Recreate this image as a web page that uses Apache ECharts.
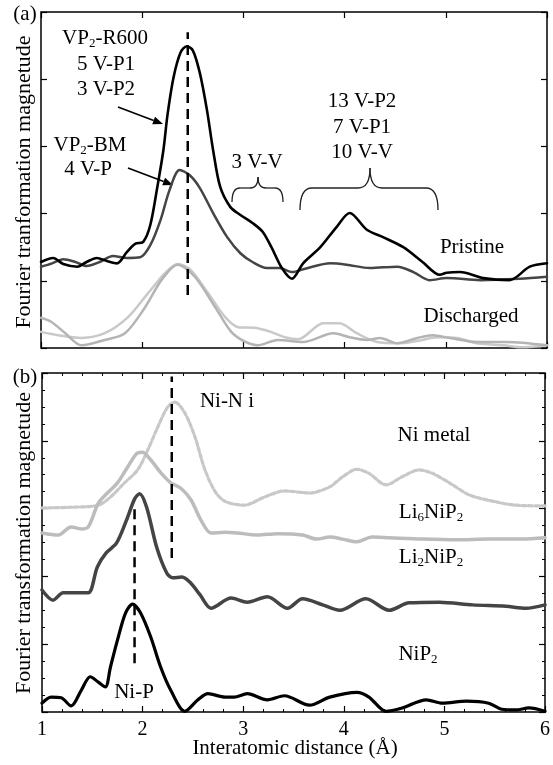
<!DOCTYPE html>
<html>
<head>
<meta charset="utf-8">
<script src="https://cdn.jsdelivr.net/npm/echarts@6/dist/echarts.min.js"></script>
<style>
html,body{margin:0;padding:0;background:#fff;}
#chart{width:553px;height:765px;}
</style>
</head>
<body>
<div id="chart"></div>
<script>
// ---------- DATA ----------
const xTickLabels = ['1', '2', '3', '4', '5', '6'];

// Panel (a): pristine VP2-R600 (black)
const pristineR600 = [
  [1.00,1.28],[1.12,1.34],[1.22,1.25],[1.36,1.21],[1.45,1.28],[1.55,1.34],[1.66,1.29],[1.75,1.26],
  [1.85,1.43],[1.93,1.55],[2.01,1.58],[2.08,1.83],[2.15,2.40],[2.21,2.95],[2.25,3.47],[2.31,4.03],
  [2.38,4.40],[2.44,4.49],[2.50,4.43],[2.57,4.09],[2.64,3.54],[2.70,2.95],[2.77,2.40],[2.87,2.10],
  [2.97,1.98],[3.09,1.86],[3.19,1.73],[3.28,1.49],[3.38,1.19],[3.48,1.03],[3.59,1.26],[3.76,1.50],
  [3.92,1.80],[4.05,2.01],[4.22,1.76],[4.38,1.65],[4.58,1.50],[4.77,1.28],[4.94,1.09],[5.01,1.12],
  [5.14,1.13],[5.37,1.04],[5.63,1.01],[5.83,1.21],[6.00,1.26]
];
// Panel (a): pristine VP2-BM (dark grey)
const pristineBM = [
  [1.00,1.21],[1.11,1.26],[1.22,1.32],[1.34,1.28],[1.45,1.22],[1.58,1.28],[1.71,1.37],[1.85,1.34],
  [1.98,1.35],[2.08,1.53],[2.18,1.90],[2.27,2.35],[2.37,2.65],[2.47,2.57],[2.57,2.38],[2.70,2.01],
  [2.84,1.65],[2.97,1.41],[3.09,1.28],[3.23,1.19],[3.36,1.19],[3.48,1.13],[3.61,1.18],[3.86,1.26],
  [4.02,1.24],[4.25,1.19],[4.52,1.21],[4.68,1.13],[4.84,1.01],[5.01,1.04],[5.34,1.01],[5.73,1.03],[6.00,1.06]
];
// Panel (a): discharged (light greys)
const dischargedR600 = [
  [1.00,0.24],[1.17,0.19],[1.40,0.15],[1.63,0.22],[1.86,0.46],[2.06,0.82],[2.23,1.12],[2.35,1.25],
  [2.48,1.16],[2.65,0.82],[2.82,0.46],[2.95,0.31],[3.11,0.30],[3.27,0.24],[3.41,0.16],[3.54,0.13],
  [3.79,0.37],[3.95,0.37],[4.12,0.22],[4.32,0.09],[4.55,0.07],[4.77,0.12],[4.91,0.16],[5.11,0.15],
  [5.31,0.07],[5.57,0.04],[5.76,0.01],[6.00,0.04]
];
const dischargedBM = [
  [1.00,0.45],[1.10,0.39],[1.24,0.22],[1.40,0.04],[1.63,0.12],[1.83,0.22],[2.03,0.61],[2.19,1.01],
  [2.35,1.24],[2.52,1.06],[2.72,0.61],[2.88,0.24],[3.02,0.09],[3.14,0.04],[3.34,0.12],[3.59,0.09],
  [3.89,0.22],[4.05,0.16],[4.22,0.12],[4.35,0.15],[4.52,0.07],[4.72,0.15],[4.87,0.19],[5.04,0.15],
  [5.31,0.09],[5.60,0.09],[6.00,0.04]
];
const refLineA = [[2.45,0.79],[2.45,4.70]];

// Panel (b)
const niMetal = [
  [1.00,3.01],[1.29,3.02],[1.56,3.05],[1.68,3.17],[1.82,3.38],[1.95,3.57],[2.05,3.86],[2.15,4.20],
  [2.25,4.50],[2.32,4.57],[2.42,4.41],[2.52,4.06],[2.62,3.57],[2.73,3.23],[2.83,3.10],[3.01,3.05],
  [3.21,3.17],[3.41,3.26],[3.66,3.23],[3.86,3.32],[3.99,3.47],[4.13,3.58],[4.25,3.52],[4.42,3.35],
  [4.58,3.47],[4.75,3.57],[4.88,3.52],[5.05,3.38],[5.25,3.20],[5.51,3.10],[5.71,3.05],[6.00,3.04]
];
const li6NiP2 = [
  [1.00,2.64],[1.16,2.61],[1.29,2.73],[1.39,2.70],[1.46,2.73],[1.56,3.08],[1.65,3.23],[1.75,3.38],
  [1.85,3.61],[1.95,3.82],[2.00,3.83],[2.08,3.72],[2.18,3.53],[2.28,3.38],[2.38,3.30],[2.48,3.13],
  [2.58,2.83],[2.68,2.64],[2.82,2.65],[2.94,2.64],[3.14,2.61],[3.34,2.63],[3.59,2.61],[3.73,2.55],
  [3.86,2.58],[3.99,2.55],[4.13,2.51],[4.28,2.58],[4.45,2.57],[4.78,2.55],[5.12,2.54],[5.44,2.55],
  [5.77,2.55],[6.00,2.57]
];
const li2NiP2 = [
  [1.00,1.80],[1.11,1.65],[1.21,1.76],[1.33,1.76],[1.46,1.76],[1.55,2.14],[1.64,2.35],[1.74,2.49],
  [1.84,2.83],[1.92,3.14],[1.97,3.22],[2.04,3.02],[2.14,2.43],[2.24,2.05],[2.30,1.98],[2.39,1.99],
  [2.48,1.90],[2.57,1.73],[2.68,1.53],[2.88,1.68],[3.04,1.62],[3.24,1.70],[3.44,1.53],[3.59,1.67],
  [3.79,1.58],[3.96,1.50],[4.22,1.67],[4.45,1.50],[4.65,1.61],[4.95,1.62],[5.28,1.58],[5.61,1.56],
  [5.81,1.53],[6.00,1.58]
];
const niP2 = [
  [1.00,0.13],[1.09,0.22],[1.19,0.21],[1.29,0.09],[1.39,0.32],[1.48,0.52],[1.56,0.44],[1.63,0.37],
  [1.68,0.66],[1.75,1.06],[1.83,1.46],[1.90,1.59],[1.98,1.46],[2.08,1.11],[2.18,0.66],[2.28,0.32],
  [2.42,0.01],[2.55,0.18],[2.65,0.27],[2.82,0.22],[2.91,0.22],[3.04,0.27],[3.24,0.18],[3.41,0.24],
  [3.66,0.10],[3.86,0.22],[4.13,0.29],[4.25,0.22],[4.42,0.01],[4.58,0.06],[4.82,0.18],[4.98,0.13],
  [5.22,0.16],[5.44,0.13],[5.57,0.04],[5.71,0.03],[5.84,0.06],[6.00,0.01]
];
const refNiNi = [[2.29,2.27],[2.29,4.95]];
const refNiP = [[1.92,0.72],[1.92,3.01]];

// ---------- CHART ----------
const FONT = "'Liberation Serif','Times New Roman',serif";
const chart = echarts.init(document.getElementById('chart'), null, {renderer: 'canvas'});

function xAx(grid, pos, labels, minor) {
  return {
    type: 'value', gridIndex: grid, position: pos, min: 1, max: 6, interval: 1,
    axisLine: {show: false, onZero: false},
    axisTick: {show: true, inside: true, length: 6, lineStyle: {color: '#000', width: 1.2}},
    minorTick: {show: minor, splitNumber: 5, length: 3, lineStyle: {color: '#000', width: 1}},
    axisLabel: {show: labels, margin: 8, fontFamily: FONT, fontSize: 20, color: '#000',
      formatter: (v) => xTickLabels[Math.round(v) - 1]},
    splitLine: {show: false}
  };
}
function yAx(grid, pos, minor) {
  return {
    type: 'value', gridIndex: grid, position: pos, min: 0, max: 5, interval: 1,
    axisLine: {show: false, onZero: false},
    axisTick: {show: true, inside: true, length: 6, lineStyle: {color: '#000', width: 1.2}},
    minorTick: {show: minor, splitNumber: 4, length: 3, lineStyle: {color: '#000', width: 1}},
    axisLabel: {show: false},
    splitLine: {show: false}
  };
}
function line(name, data, xi, yi, color, width, type) {
  return {
    name, type: 'line', data, xAxisIndex: xi, yAxisIndex: yi, showSymbol: false, symbol: 'none',
    smooth: 0.3, animation: false,
    lineStyle: {color, width, type: type || 'solid', cap: 'round', join: 'round'}
  };
}

const option = {
  backgroundColor: '#fff',
  animation: false,
  grid: [
    {left: 41, top: 12, width: 506, height: 336, show: true, borderColor: '#000', borderWidth: 1.5, backgroundColor: 'transparent'},
    {left: 42, top: 373, width: 504, height: 339, show: true, borderColor: '#000', borderWidth: 1.5, backgroundColor: 'transparent'}
  ],
  xAxis: [xAx(0, 'bottom', false, false), xAx(0, 'top', false, false), xAx(1, 'bottom', true, true), xAx(1, 'top', false, true)],
  yAxis: [yAx(0, 'left', false), yAx(0, 'right', false), yAx(1, 'left', true), yAx(1, 'right', true)],
  series: [
    line('Discharged R600', dischargedR600, 0, 0, '#c9c9c9', 2.5),
    line('Discharged BM', dischargedBM, 0, 0, '#b4b4b4', 2.5),
    line('VP2-BM', pristineBM, 0, 0, '#454545', 2.5),
    line('VP2-R600', pristineR600, 0, 0, '#000', 2.6),
    {type: 'line', data: refLineA, xAxisIndex: 0, yAxisIndex: 0, symbol: 'none', smooth: false,
      lineStyle: {color: '#000', width: 2.5, type: [10, 6]}},
    line('Ni metal', niMetal, 2, 2, '#c8c8c8', 3.2, [4, 2.5]),
    line('Li6NiP2', li6NiP2, 2, 2, '#bcbcbc', 3.5),
    line('Li2NiP2', li2NiP2, 2, 2, '#444', 3.5),
    line('NiP2', niP2, 2, 2, '#000', 3.2),
    {type: 'line', data: refNiNi, xAxisIndex: 2, yAxisIndex: 2, symbol: 'none', smooth: false,
      lineStyle: {color: '#000', width: 2.5, type: [10, 6]}},
    {type: 'line', data: refNiP, xAxisIndex: 2, yAxisIndex: 2, symbol: 'none', smooth: false,
      lineStyle: {color: '#000', width: 2.5, type: [10, 6]}}
  ]
};
chart.setOption(option);

// ---------- ANNOTATIONS ----------
const sub = {fontSize: 13, fontFamily: FONT, fill: '#000', verticalAlign: 'bottom', lineHeight: 12};
function txt(text, x, y, size) {
  const fs = size || 21;
  return {
    type: 'text', x, y, silent: true,
    style: {text, fontFamily: FONT, fontSize: fs, fill: '#000', align: 'center', verticalAlign: 'middle',
      lineHeight: 25, rich: {s: sub, n: {fontSize: fs, fontFamily: FONT, lineHeight: 25}}}
  };
}
function arrow(x1, y1, x2, y2) {
  const dx = x2 - x1, dy = y2 - y1, L = Math.hypot(dx, dy);
  const ux = dx / L, uy = dy / L, hl = 10, hw = 4;
  const bx = x2 - ux * hl, by = y2 - uy * hl;
  return [
    {type: 'line', silent: true, shape: {x1, y1, x2: bx, y2: by}, style: {stroke: '#000', lineWidth: 1.6}},
    {type: 'polygon', silent: true, shape: {points: [[x2, y2], [bx - uy * hw, by + ux * hw], [bx + uy * hw, by - ux * hw]]}, style: {fill: '#000'}}
  ];
}
function brace(xl, xr, yEnd, yH, xm, yTip, r) {
  const st = {stroke: '#222', lineWidth: 1.3, fill: null};
  const q = (x1, y1, cx, cy, x2, y2) => ({type: 'bezierCurve', silent: true, shape: {x1, y1, cpx1: cx, cpy1: cy, x2, y2}, style: st});
  const l = (x1, y1, x2, y2) => ({type: 'line', silent: true, shape: {x1, y1, x2, y2}, style: st});
  return [
    q(xl, yEnd, xl, yH, xl + r, yH),
    l(xl + r, yH, xm - r, yH),
    q(xm - r, yH, xm, yH, xm, yTip),
    q(xm, yTip, xm, yH, xm + r, yH),
    l(xm + r, yH, xr - r, yH),
    q(xr - r, yH, xr, yH, xr, yEnd)
  ];
}
const elements = [
  txt('(a)', 25, 14, 21),
  txt('(b)', 25, 377, 21),
  {type: 'text', x: 24, y: 182, rotation: Math.PI / 2, silent: true,
    style: {text: 'Fourier tranformation magnetude', fontFamily: FONT, fontSize: 22, fill: '#000', align: 'center', verticalAlign: 'middle'}},
  {type: 'text', x: 24, y: 543, rotation: Math.PI / 2, silent: true,
    style: {text: 'Fourier transformation magnetude', fontFamily: FONT, fontSize: 22, fill: '#000', align: 'center', verticalAlign: 'middle'}},
  txt('{n|VP}{s|2}{n|-R600}', 105, 38),
  txt('5 V-P1', 106, 64),
  txt('3 V-P2', 106, 89),
  txt('{n|VP}{s|2}{n|-BM}', 90, 145),
  txt('4 V-P', 88, 169),
  txt('3 V-V', 257, 162),
  txt('13 V-P2', 362, 101),
  txt('7 V-P1', 362, 127),
  txt('10 V-V', 362, 152),
  txt('Pristine', 472, 247),
  txt('Discharged', 471, 316),
  txt('Ni-N i', 227, 401),
  txt('Ni metal', 434, 435),
  txt('{n|Li}{s|6}{n|NiP}{s|2}', 431, 512),
  txt('{n|Li}{s|2}{n|NiP}{s|2}', 431, 557),
  txt('{n|NiP}{s|2}', 418, 654),
  txt('Ni-P', 134, 692),
  txt('Interatomic distance (Å)', 295, 748, 21)
].concat(
  brace(232, 283, 202, 188, 258, 177, 8),
  brace(300, 438, 210, 188, 370, 168, 12),
  arrow(118, 107, 163, 124),
  arrow(128, 168, 173, 185)
);

chart.setOption({graphic: {elements}});
</script>
</body>
</html>
